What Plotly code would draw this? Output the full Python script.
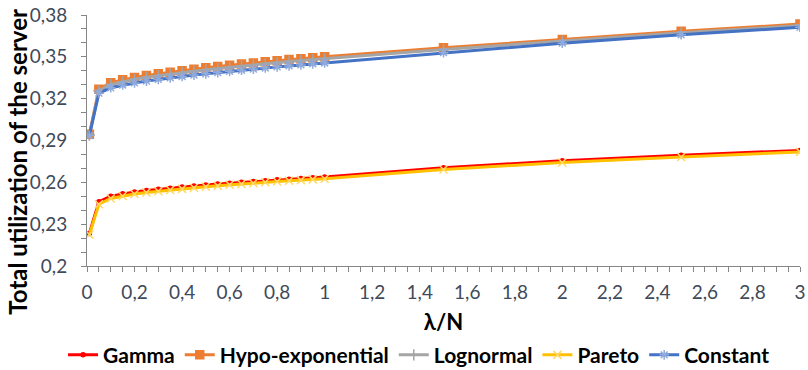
import plotly.graph_objects as go

x_vals = [0.01, 0.05, 0.1, 0.15, 0.2, 0.25, 0.3, 0.35, 0.4, 0.45, 0.5, 0.55, 0.6, 0.65,
          0.7, 0.75, 0.8, 0.85, 0.9, 0.95, 1.0, 1.5, 2.0, 2.5, 3.0]

gamma = [0.2233, 0.2460, 0.2500, 0.2518, 0.2531, 0.2541, 0.2550, 0.2558, 0.2566, 0.2574,
         0.2581, 0.2588, 0.2594, 0.2600, 0.2606, 0.2612, 0.2618, 0.2623, 0.2628, 0.2633,
         0.2638, 0.2705, 0.2755, 0.2795, 0.2829]
hypo = [0.2945, 0.3268, 0.3315, 0.3335, 0.3352, 0.3366, 0.3378, 0.3390, 0.3401, 0.3411,
        0.3421, 0.3430, 0.3439, 0.3448, 0.3456, 0.3464, 0.3472, 0.3480, 0.3487, 0.3494,
        0.3501, 0.3565, 0.3625, 0.3683, 0.3735]
lognormal = [0.2940, 0.3256, 0.3302, 0.3322, 0.3339, 0.3353, 0.3365, 0.3377, 0.3388, 0.3398,
             0.3408, 0.3417, 0.3426, 0.3435, 0.3443, 0.3451, 0.3459, 0.3467, 0.3474, 0.3481,
             0.3488, 0.3553, 0.3614, 0.3672, 0.3724]
pareto = [0.2225, 0.2443, 0.2484, 0.2502, 0.2516, 0.2527, 0.2536, 0.2545, 0.2553, 0.2561,
          0.2568, 0.2575, 0.2582, 0.2588, 0.2594, 0.2600, 0.2606, 0.2611, 0.2616, 0.2621,
          0.2626, 0.2692, 0.2742, 0.2782, 0.2818]
constant = [0.2935, 0.3240, 0.3278, 0.3298, 0.3313, 0.3326, 0.3338, 0.3349, 0.3359, 0.3369,
            0.3378, 0.3387, 0.3396, 0.3404, 0.3412, 0.3420, 0.3428, 0.3435, 0.3442, 0.3449,
            0.3456, 0.3530, 0.3598, 0.3658, 0.3712]

series = [
    ("Gamma", gamma, "#FF0000", "circle", 4, "#FF0000"),
    ("Hypo-exponential", hypo, "#ED7D31", "square", 8, "#ED7D31"),
    ("Lognormal", lognormal, "#A5A5A5", "cross-thin-open", 8, "#A5A5A5"),
    ("Pareto", pareto, "#FFC000", "x-thin-open", 8, "#FFD966"),
    ("Constant", constant, "#4472C4", "asterisk-open", 8, "#8FAADC"),
]

FONT = "Lato"
fig = go.Figure()
for name, vals, col, sym, size, mcol in series:
    fig.add_trace(go.Scatter(
        x=x_vals, y=vals, name=name, mode="lines+markers",
        line=dict(color=col, width=3),
        marker=dict(symbol=sym, size=size, color=mcol, line=dict(color=mcol, width=1.5)),
    ))

tick_font = dict(family=FONT, size=19, color="#3f4a5a")
fig.update_layout(
    width=808, height=370,
    margin=dict(l=87, r=8, t=15, b=104, autoexpand=False),
    paper_bgcolor="white", plot_bgcolor="white",
    separators=",.",
    font=dict(family=FONT),
    showlegend=True,
    legend=dict(orientation="h", xref="container", yref="container",
                x=0.5186, y=0.04, xanchor="center", yanchor="middle",
                font=dict(family=FONT, size=21, color="black", weight="bold"),
                itemwidth=30, tracegroupgap=0, bgcolor="rgba(0,0,0,0)"),
    xaxis=dict(range=[0, 3], dtick=0.2, tick0=0, showgrid=False, zeroline=False,
               showline=True, linecolor="#868686", linewidth=1, automargin=False,
               ticks="outside", ticklen=5, tickcolor="#868686",
               minor=dict(dtick=0.05, ticks="outside", ticklen=5, tickcolor="#868686", showgrid=False),
               tickfont=tick_font, ticklabelstandoff=4,
               title=dict(text="<b>λ/N</b>", font=dict(family=FONT, size=22, color="black"), standoff=14)),
    yaxis=dict(range=[0.2, 0.38], dtick=0.03, tick0=0.2, showgrid=False, zeroline=False,
               showline=True, linecolor="#868686", linewidth=1, automargin=False,
               ticks="outside", ticklen=5, tickcolor="#868686",
               minor=dict(dtick=0.01, ticks="outside", ticklen=5, tickcolor="#868686", showgrid=False),
               tickfont=tick_font, ticklabelstandoff=10),
    annotations=[dict(text="<b>Total utilization of the server</b>", textangle=-90,
                      xref="paper", yref="paper", x=-0.097, y=0.415,
                      xanchor="center", yanchor="middle", showarrow=False,
                      font=dict(family=FONT, size=24, color="black"))],
)

fig.write_html("out.html")
